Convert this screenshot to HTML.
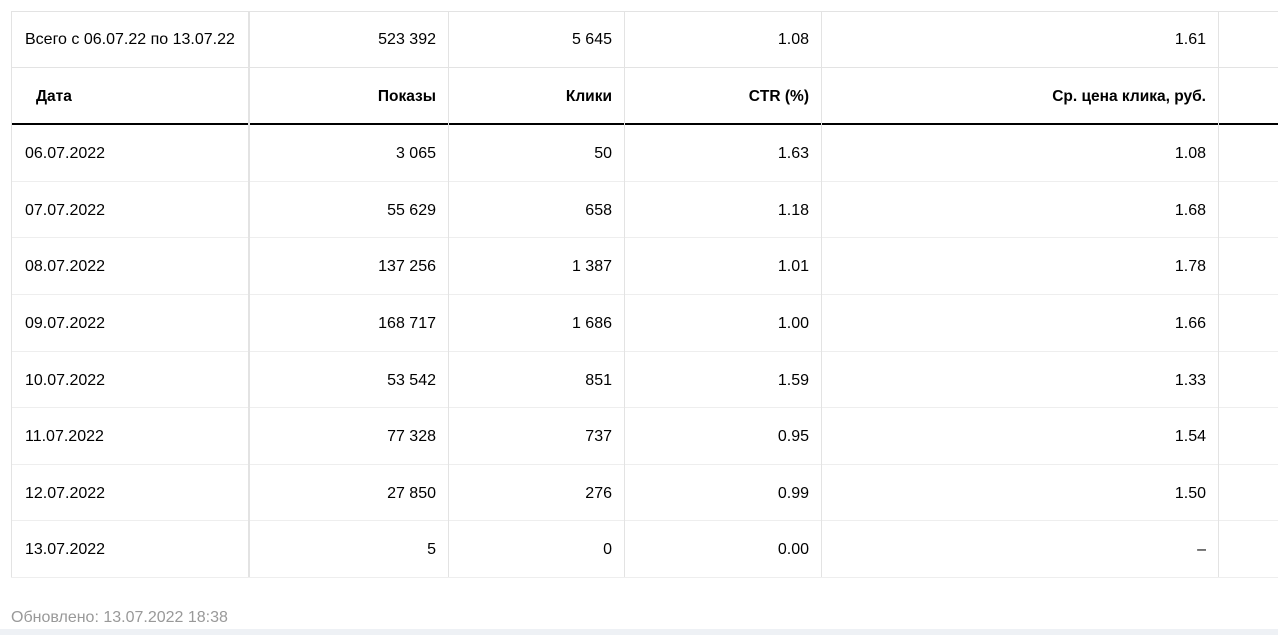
<!DOCTYPE html>
<html><head><meta charset="utf-8"><style>
body{margin:0;width:1278px;height:635px;background:#fff;position:relative;overflow:hidden;font-family:"Liberation Sans",sans-serif;font-size:16px;color:#000}
.h{position:absolute;left:11px;right:0;height:1px;background:#e3e3e3}
.v{position:absolute;width:1px;background:#e3e3e3;top:11px;height:566px}
.c{position:absolute;height:20px;line-height:20px;white-space:nowrap}
.r{text-align:right}
.b{font-weight:bold;font-size:15.5px}
</style></head><body>
<div class="h" style="top:11px"></div>
<div class="h" style="top:67px"></div>
<div class="h" style="top:123px;height:2px;background:#000"></div>
<div class="h" style="top:181px;background:#eee"></div>
<div class="h" style="top:237px;background:#eee"></div>
<div class="h" style="top:294px;background:#eee"></div>
<div class="h" style="top:351px;background:#eee"></div>
<div class="h" style="top:407px;background:#eee"></div>
<div class="h" style="top:464px;background:#eee"></div>
<div class="h" style="top:520px;background:#eee"></div>
<div class="h" style="top:577px;background:#eee"></div>
<div class="v" style="left:11px"></div>
<div class="v" style="left:248px;width:2px"></div>
<div class="v" style="left:448px"></div>
<div class="v" style="left:624px"></div>
<div class="v" style="left:821px"></div>
<div class="v" style="left:1218px"></div>
<div id="t"></div>
<div class="c" style="left:11px;top:608px;color:#999">Обновлено: 13.07.2022 18:38</div>
<div style="position:absolute;left:0;right:0;top:629px;height:6px;background:#eef1f5"></div>
<script>
var rows=[["Всего с 06.07.22 по 13.07.22","523 392","5 645","1.08","1.61",0],
["Дата","Показы","Клики","CTR (%)","Ср. цена клика, руб.",1],
["06.07.2022","3 065","50","1.63","1.08",0],
["07.07.2022","55 629","658","1.18","1.68",0],
["08.07.2022","137 256","1 387","1.01","1.78",0],
["09.07.2022","168 717","1 686","1.00","1.66",0],
["10.07.2022","53 542","851","1.59","1.33",0],
["11.07.2022","77 328","737","0.95","1.54",0],
["12.07.2022","27 850","276","0.99","1.50",0],
["13.07.2022","5","0","0.00","–",0]];
var ys=[11,67,124,181,238,294,351,408,464,521,577];
var rights=[436,612,809,1206];
var h="";
rows.forEach(function(r,i){
 var cy=(ys[i]+ys[i+1])/2-10+1;
 var cls=r[5]?" b":"";
 h+='<div class="c'+cls+'" style="left:'+(r[5]?36:25)+'px;top:'+cy+'px">'+r[0]+'</div>';
 for(var k=0;k<4;k++){
  h+='<div class="c r'+cls+'" style="right:'+(1278-rights[k])+'px;top:'+cy+'px">'+r[k+1]+'</div>';
 }
});
document.getElementById("t").innerHTML=h;
</script>
</body></html>
